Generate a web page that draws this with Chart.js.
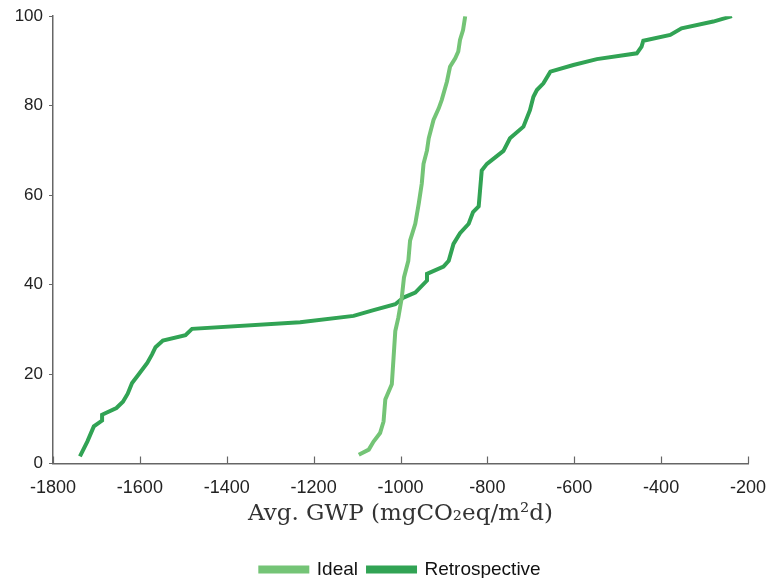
<!DOCTYPE html>
<html>
<head>
<meta charset="utf-8">
<script src="https://cdn.jsdelivr.net/npm/chart.js@4/dist/chart.umd.min.js"></script>
<style>
  html, body { margin: 0; padding: 0; background: #fff; }
  #wrap { width: 770px; height: 578px; }
</style>
</head>
<body>
<div id="wrap"><canvas id="c" width="770" height="578"></canvas></div>
<script>
// Cumulative distribution of average GWP (percent of cases)
const idealX = [-1096,-1073,-1062,-1047,-1039,-1035,-1020,-1016,-1012,-1005,-997,-992,-982,-978,-966,-958,-951,-947,-939,-935,-924,-912,-905,-893,-886,-874,-867,-863,-856,-851];
const idealY = [1.95,3.1,4.9,6.8,9.4,14.3,17.7,23.6,29.6,32.6,37.1,41.6,45.3,49.8,53.6,58.1,62.6,67.0,70.0,72.7,76.8,79.4,81.3,85.4,88.7,90.6,92.1,94.7,96.9,100];

const retroX = [-1738,-1721,-1706,-1687,-1687,-1654,-1639,-1628,-1618,-1603,-1583,-1572,-1564,-1547,-1495,-1480,-1231,-1108,-1062,-1012,-993,-966,-939,-939,-901,-889,-878,-863,-843,-833,-820,-813,-801,-763,-748,-717,-702,-694,-686,-671,-655,-602,-548,-456,-445,-441,-379,-353,-280,-237];
const retroY = [1.6,4.9,8.3,9.6,10.9,12.4,13.8,15.6,18.0,19.9,22.5,24.4,26.0,27.5,28.7,30.1,31.6,33.0,34.3,35.6,37.1,38.2,40.9,42.4,44.0,45.3,49.1,51.5,53.6,56.2,57.5,65.5,67.0,69.9,72.7,75.3,79.0,82.0,83.5,85.0,87.6,89.1,90.4,91.7,93.2,94.5,95.8,97.3,98.8,100];

const xTicks = [-1800,-1600,-1400,-1200,-1000,-800,-600,-400,-200];
const yTicks = [0,20,40,60,80,100];

const seriesNames = ['Ideal', 'Retrospective'];
const seriesColors = ['#74c476', '#31a354'];

const toPoints = (xs, ys) => xs.map((x, i) => ({ x: x, y: ys[i] }));

// Inward tick marks along the bottom axis
const innerTicks = {
  id: 'innerTicks',
  afterDraw(chart) {
    const ctx = chart.ctx;
    const xs = chart.scales.x;
    const base = chart.chartArea.bottom;
    ctx.save();
    ctx.strokeStyle = '#666';
    ctx.lineWidth = 1.2;
    xTicks.forEach(v => {
      const px = Math.round(xs.getPixelForValue(v)) + 0.5;
      ctx.beginPath();
      ctx.moveTo(px, base);
      ctx.lineTo(px, base - 7);
      ctx.stroke();
    });
    ctx.restore();
  }
};

// Center the legend under the plot area rather than the whole canvas
const legendUnderPlot = {
  id: 'legendUnderPlot',
  afterLayout(chart) {
    if (chart.legend) {
      chart.legend.left = chart.chartArea.left - (chart.width - chart.chartArea.right);
    }
  }
};

new Chart(document.getElementById('c'), {
  type: 'line',
  data: {
    datasets: [
      {
        label: seriesNames[0],
        data: toPoints(idealX, idealY),
        borderColor: seriesColors[0],
        backgroundColor: seriesColors[0],
        borderWidth: 4,
        pointRadius: 0,
        tension: 0
      },
      {
        label: seriesNames[1],
        data: toPoints(retroX, retroY),
        borderColor: seriesColors[1],
        backgroundColor: seriesColors[1],
        borderWidth: 4,
        pointRadius: 0,
        tension: 0
      }
    ]
  },
  options: {
    responsive: false,
    animation: false,
    layout: { padding: { top: 10, right: 0, left: 0, bottom: -11 } },
    plugins: {
      tooltip: { enabled: false },
      legend: {
        position: 'bottom',
        labels: {
          boxWidth: 47,
          boxHeight: 4,
          padding: 10,
          color: '#111',
          font: { family: 'Liberation Sans', size: 19 }
        }
      }
    },
    scales: {
      x: {
        type: 'linear',
        min: -1800,
        max: -200,
        afterBuildTicks(scale) { scale.ticks = xTicks.map(v => ({ value: v })); },
        afterFit(scale) {
          scale.height = 86.5;
          scale.paddingLeft = 0;
          scale.paddingRight = 22;
        },
        grid: { display: false, drawOnChartArea: false, drawTicks: false },
        border: { display: true, color: '#666', width: 1.5 },
        ticks: {
          padding: 14,
          color: '#222',
          maxRotation: 0,
          font: { family: 'Liberation Sans', size: 18 },
          callback: v => String(v)
        },
        title: {
          display: true,
          text: 'Avg. GWP (mgCO\u2082eq/m\u00b2d)',
          color: '#333',
          padding: { top: 0, bottom: 22 },
          font: { family: 'DejaVu Serif', size: 23 }
        }
      },
      y: {
        min: 0,
        max: 100,
        afterBuildTicks(scale) { scale.ticks = yTicks.map(v => ({ value: v })); },
        afterFit(scale) { scale.width = 53; },
        grid: { display: true, drawOnChartArea: false, drawTicks: true, tickLength: 4, color: '#666' },
        border: { display: true, color: '#666', width: 1.5 },
        ticks: {
          padding: 6,
          color: '#222',
          font: { family: 'Liberation Sans', size: 17 },
          callback: v => String(v)
        }
      }
    }
  },
  plugins: [innerTicks, legendUnderPlot]
});
</script>
</body>
</html>
